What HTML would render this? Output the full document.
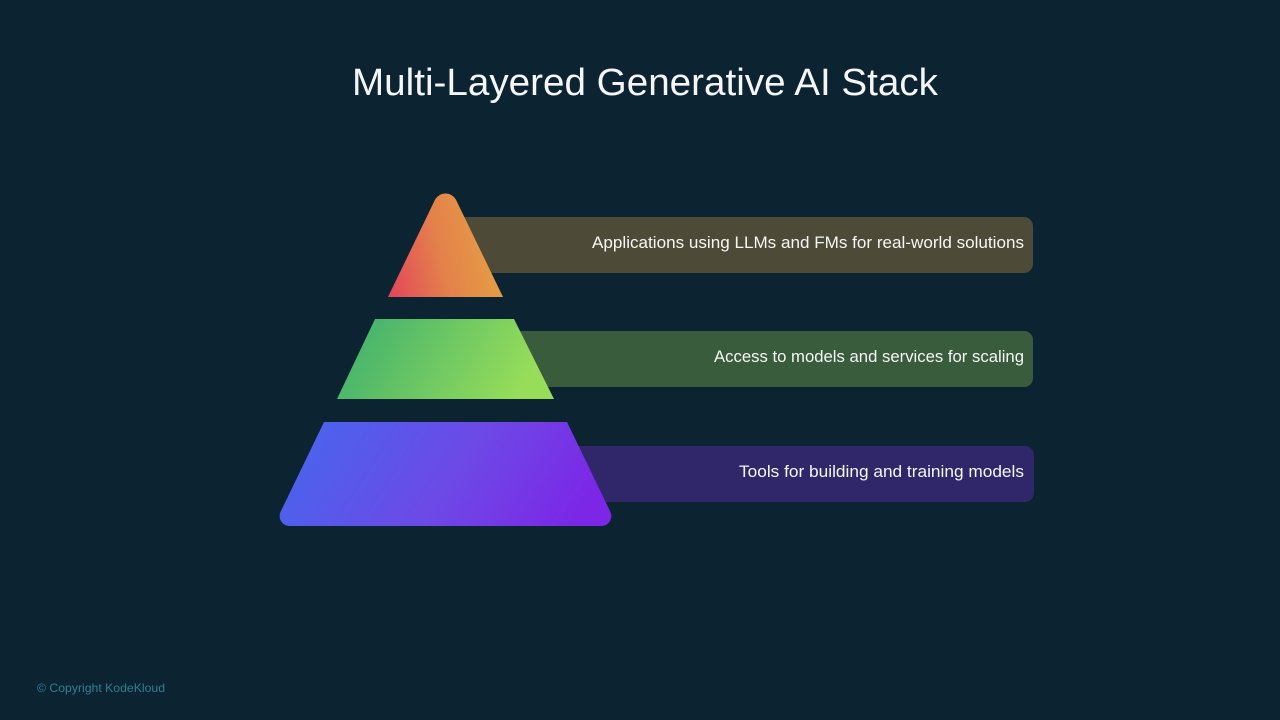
<!DOCTYPE html>
<html><head><meta charset="utf-8"><style>html,body{margin:0;padding:0;background:#0c2331}svg{display:block}text{font-family:"Liberation Sans",sans-serif}</style></head>
<body>
<svg width="1280" height="720" viewBox="0 0 1280 720" xmlns="http://www.w3.org/2000/svg">
<defs>
<linearGradient id="a" gradientUnits="userSpaceOnUse" x1="390" y1="292" x2="502" y2="268"><stop offset="0" stop-color="#e2485a"/><stop offset="0.5" stop-color="#e4814b"/><stop offset="1" stop-color="#e59f44"/></linearGradient>
<linearGradient id="b" gradientUnits="userSpaceOnUse" x1="375" y1="318" x2="515" y2="400"><stop offset="0" stop-color="#49b56c"/><stop offset="1" stop-color="#97dd59"/></linearGradient>
<linearGradient id="c" gradientUnits="userSpaceOnUse" x1="345" y1="405" x2="565" y2="545"><stop offset="0" stop-color="#4e60ec"/><stop offset="0.5" stop-color="#6d49e6"/><stop offset="1" stop-color="#7c26e6"/></linearGradient>
</defs>
<rect width="1280" height="720" fill="#0c2331"/>
<text x="352" y="95" font-size="38" fill="#f4f6f8" textLength="586" lengthAdjust="spacingAndGlyphs">Multi-Layered Generative AI Stack</text>
<rect x="430" y="217" width="603" height="56" rx="9" fill="#4d4a38"/>
<rect x="490" y="331" width="543" height="56" rx="9" fill="#385c3c"/>
<rect x="550" y="446" width="484" height="56" rx="9" fill="#30266a"/>
<path d="M388 297L434.4 201A12 12 0 0 1 456.6 201L503 297Z" fill="url(#a)"/>
<path d="M375 319H514L554 399H337Z" fill="url(#b)"/>
<path d="M324 422H567L610 511A10 10 0 0 1 601 526H289A10 10 0 0 1 281 511Z" fill="url(#c)"/>
<text x="592" y="248" font-size="17" fill="#f6f6f4" textLength="432" lengthAdjust="spacingAndGlyphs">Applications using LLMs and FMs for real-world solutions</text>
<text x="714" y="362" font-size="17" fill="#f6f6f4" textLength="310" lengthAdjust="spacingAndGlyphs">Access to models and services for scaling</text>
<text x="739" y="477" font-size="17" fill="#f6f6f4" textLength="285" lengthAdjust="spacingAndGlyphs">Tools for building and training models</text>
<text x="37" y="692" font-size="12" fill="#2f7f96" textLength="128" lengthAdjust="spacingAndGlyphs">© Copyright KodeKloud</text>
</svg>
</body></html>
